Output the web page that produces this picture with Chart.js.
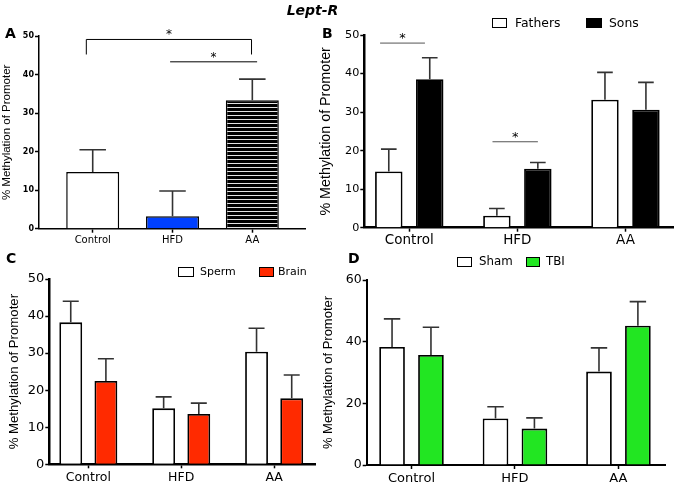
<!DOCTYPE html>
<html>
<head>
<meta charset="utf-8">
<script src="https://cdn.jsdelivr.net/npm/chart.js@4.4.0/dist/chart.umd.min.js"></script>
<style>
  html, body { margin: 0; padding: 0; background: #fff; }
  #fig { position: relative; width: 675px; height: 486px; overflow: hidden; font-family: "DejaVu Sans", sans-serif; color: #000; }
  canvas { position: absolute; }
  .lbl { position: absolute; font-weight: bold; font-size: 14px; line-height: 14px; }
  .box { position: absolute; box-sizing: border-box; border: 1.5px solid #000; height: 10px; }
  .txt { position: absolute; white-space: nowrap; }
</style>
</head>
<body>
<div id="fig">
  <canvas id="chartA" width="320" height="250" style="left:0;top:0;width:320px;height:250px"></canvas>
  <canvas id="chartB" width="365" height="250" style="left:310px;top:0;width:365px;height:250px"></canvas>
  <canvas id="chartC" width="320" height="241" style="left:0;top:245px;width:320px;height:241px"></canvas>
  <canvas id="chartD" width="361" height="241" style="left:314px;top:245px;width:361px;height:241px"></canvas>

  <div class="lbl" style="left:270px;top:3px;width:85px;text-align:center;font-style:italic;">Lept-R</div>
  <div class="lbl" style="left:5px;top:26px;">A</div>
  <div class="lbl" style="left:322px;top:26px;">B</div>
  <div class="lbl" style="left:6px;top:251px;">C</div>
  <div class="lbl" style="left:348px;top:251px;">D</div>

  <!-- legend B -->
  <div class="box" style="left:492px;top:18px;width:15px;background:#fff"></div>
  <div class="txt" style="left:515px;top:17px;font-size:12.4px;line-height:12.4px">Fathers</div>
  <div class="box" style="left:586px;top:18px;width:16px;background:#000"></div>
  <div class="txt" style="left:609px;top:17px;font-size:12.4px;line-height:12.4px">Sons</div>
  <!-- legend C -->
  <div class="box" style="left:178px;top:267px;width:16px;background:#fff"></div>
  <div class="txt" style="left:200px;top:266px;font-size:11px;line-height:11px">Sperm</div>
  <div class="box" style="left:259px;top:267px;width:15px;background:#ff2a00"></div>
  <div class="txt" style="left:278px;top:266px;font-size:11px;line-height:11px">Brain</div>
  <!-- legend D -->
  <div class="box" style="left:457px;top:257px;width:15px;background:#fff"></div>
  <div class="txt" style="left:479px;top:256px;font-size:11.8px;line-height:11.8px">Sham</div>
  <div class="box" style="left:526px;top:257px;width:14px;background:#22e622"></div>
  <div class="txt" style="left:546px;top:256px;font-size:11.8px;line-height:11.8px">TBI</div>
</div>
<script>
"use strict";

const categories = ['Control', 'HFD', 'AA'];

// A: whole group means + SEM
const groupMeans = [14.7, 3.2, 33.3];
const groupSem = [5.8, 6.6, 5.5];

// B: fathers vs sons
const fathersMeans = [14.6, 3.1, 33.2];
const fathersSem = [5.8, 1.9, 7.1];
const sonsMeans = [38.5, 15.3, 30.6];
const sonsSem = [5.6, 1.6, 7.1];

// C: sperm vs brain
const spermMeans = [38.3, 15.1, 30.4];
const spermSem = [5.7, 3.1, 6.3];
const brainMeans = [22.5, 13.6, 17.8];
const brainSem = [6.0, 2.9, 6.3];

// D: sham vs TBI
const shamMeans = [38.3, 15.1, 30.3];
const shamSem = [9.1, 3.8, 7.7];
const tbiMeans = [35.7, 11.8, 45.2];
const tbiSem = [9.0, 3.5, 7.8];

// significance marks (category units / y units)
const sigA = [
  { from: -0.08, to: 1.99, y: 49.1, legs: 45.2 },
  { from: 0.97, to: 2.06, y: 43.3 }
];
const sigB = [
  { from: -0.27, to: 0.145, y: 47.9 },
  { from: 0.77, to: 1.19, y: 22.3 }
];

const toPoints = (vals) => vals.map((v, i) => ({ x: i, y: v }));

// horizontal stripes for the AA bar in panel A
const stripes = (() => {
  const c = document.createElement('canvas');
  c.width = 4; c.height = 4;
  const g = c.getContext('2d');
  g.fillStyle = '#000';
  g.fillRect(0, 0, 4, 4);
  g.fillStyle = '#e4e4e4';
  g.fillRect(0, 3, 4, 1);
  return g.createPattern(c, 'repeat');
})();

const errorBars = {
  id: 'errorBars',
  afterDatasetsDraw(chart, args, opts) {
    const { ctx } = chart;
    const yScale = chart.scales.y;
    ctx.save();
    ctx.strokeStyle = opts.color;
    ctx.lineWidth = opts.width;
    chart.data.datasets.forEach((ds, di) => {
      chart.getDatasetMeta(di).data.forEach((bar, i) => {
        const top = yScale.getPixelForValue(ds.data[i].y + ds.sem[i]);
        const half = bar.width * opts.cap / 2;
        ctx.beginPath();
        ctx.moveTo(bar.x, bar.y);
        ctx.lineTo(bar.x, top);
        ctx.moveTo(bar.x - half, top);
        ctx.lineTo(bar.x + half, top);
        ctx.stroke();
      });
    });
    ctx.restore();
  }
};

const sigMarks = {
  id: 'sigMarks',
  afterDraw(chart, args, opts) {
    if (!opts.marks) return;
    const { ctx } = chart;
    const { x, y } = chart.scales;
    ctx.save();
    ctx.strokeStyle = opts.color;
    ctx.lineWidth = 1;
    ctx.fillStyle = '#000';
    ctx.font = opts.font;
    ctx.textAlign = 'center';
    opts.marks.forEach(m => {
      const x1 = x.getPixelForValue(m.from);
      const x2 = x.getPixelForValue(m.to);
      const yy = y.getPixelForValue(m.y);
      ctx.beginPath();
      if (m.legs != null) {
        const yl = y.getPixelForValue(m.legs);
        ctx.moveTo(x1, yl);
        ctx.lineTo(x1, yy);
        ctx.lineTo(x2, yy);
        ctx.lineTo(x2, yl);
      } else {
        ctx.moveTo(x1, yy);
        ctx.lineTo(x2, yy);
      }
      ctx.stroke();
      ctx.fillText('*', (x1 + x2) / 2, yy - opts.lift);
    });
    ctx.restore();
  }
};

const buildPanel = (id, p) => {
  new Chart(document.getElementById(id), {
    type: 'bar',
    data: { datasets: p.datasets },
    plugins: [errorBars, sigMarks],
    options: {
      responsive: false,
      animation: false,
      devicePixelRatio: 1,
      layout: { padding: p.pad },
      datasets: { bar: { categoryPercentage: p.cp, barPercentage: p.bp, borderColor: '#000', borderWidth: p.barBorder } },
      plugins: {
        legend: { display: false },
        tooltip: { enabled: false },
        errorBars: { color: '#333', width: 1.6, cap: p.cap },
        sigMarks: { marks: p.sig, color: p.sigColor, font: p.sigFont, lift: p.sigLift }
      },
      scales: {
        x: {
          type: 'linear',
          offset: false,
          min: p.xMin,
          max: p.xMax,
          afterBuildTicks: s => { s.ticks = categories.map((c, i) => ({ value: i })); },
          ticks: { callback: v => categories[v], color: '#000', font: p.labelFont, padding: p.labelPad, maxRotation: 0, autoSkip: false },
          grid: { drawOnChartArea: false, offset: false, tickLength: 4, color: '#000', tickWidth: 1.5 },
          border: { color: '#000', width: p.axisWidth },
          afterFit: s => { s.height = p.xHeight; }
        },
        y: {
          min: 0,
          max: p.yMax,
          ticks: { stepSize: p.yStep, color: '#000', font: p.tickFont, padding: 1 },
          grid: { drawOnChartArea: false, tickLength: 4, color: '#000', tickWidth: 1.5 },
          border: { color: '#000', width: p.axisWidth },
          title: { display: true, text: '% Methylation of Promoter', color: '#000', font: p.titleFont, padding: 0 },
          afterFit: s => { s.width = p.yWidth; }
        }
      }
    }
  });
};

const dejavu = (size, weight) => ({ family: 'DejaVu Sans', size, weight: weight || 'normal' });
const arial = (size) => ({ family: 'Liberation Sans', size });

buildPanel('chartA', {
  datasets: [{
    data: toPoints(groupMeans), sem: groupSem,
    backgroundColor: ['#fff', '#0040ff', stripes]
  }],
  pad: { left: 0, top: 36, right: 15, bottom: 0 },
  yWidth: 39, xHeight: 21.3, xMin: -0.673, xMax: 2.66, yMax: 50, yStep: 10,
  cp: 0.8, bp: 0.83, cap: 0.5, barBorder: 1.5, axisWidth: 1.5,
  tickFont: dejavu(8, 'bold'), labelFont: dejavu(10), titleFont: arial(11.5), labelPad: 2,
  sig: sigA, sigColor: '#000', sigFont: '12px "DejaVu Sans"', sigLift: 1
});

buildPanel('chartB', {
  datasets: [
    { data: toPoints(fathersMeans), sem: fathersSem, backgroundColor: '#fff' },
    { data: toPoints(sonsMeans), sem: sonsSem, backgroundColor: '#000' }
  ],
  pad: { left: 7.6, top: 35, right: 2, bottom: 0 },
  yWidth: 46.7, xHeight: 22.3, xMin: -0.416, xMax: 2.44, yMax: 50, yStep: 10,
  cp: 0.758, bp: 0.67, cap: 0.57, barBorder: 1.8, axisWidth: 2.5,
  tickFont: dejavu(11.2), labelFont: dejavu(13.5), titleFont: arial(14.3), labelPad: 1,
  sig: sigB, sigColor: '#555', sigFont: '13px "DejaVu Sans"', sigLift: 1
});

buildPanel('chartC', {
  datasets: [
    { data: toPoints(spermMeans), sem: spermSem, backgroundColor: '#fff' },
    { data: toPoints(brainMeans), sem: brainSem, backgroundColor: '#ff2a00' }
  ],
  pad: { left: 6, top: 34, right: 5, bottom: 0 },
  yWidth: 43.3, xHeight: 21.7, xMin: -0.42, xMax: 2.44, yMax: 50, yStep: 10,
  cp: 0.757, bp: 0.65, cap: 0.7, barBorder: 1.8, axisWidth: 2.5,
  tickFont: dejavu(13), labelFont: dejavu(12.5), titleFont: arial(13.2), labelPad: 2
});

buildPanel('chartD', {
  datasets: [
    { data: toPoints(shamMeans), sem: shamSem, backgroundColor: '#fff' },
    { data: toPoints(tbiMeans), sem: tbiSem, backgroundColor: '#22e622' }
  ],
  pad: { left: 7, top: 35, right: 10, bottom: 0 },
  yWidth: 45.7, xHeight: 21, xMin: -0.433, xMax: 2.45, yMax: 60, yStep: 20,
  cp: 0.752, bp: 0.66, cap: 0.64, barBorder: 1.8, axisWidth: 2,
  tickFont: dejavu(12.5), labelFont: dejavu(13), titleFont: arial(13), labelPad: 2
});
</script>
</body>
</html>
